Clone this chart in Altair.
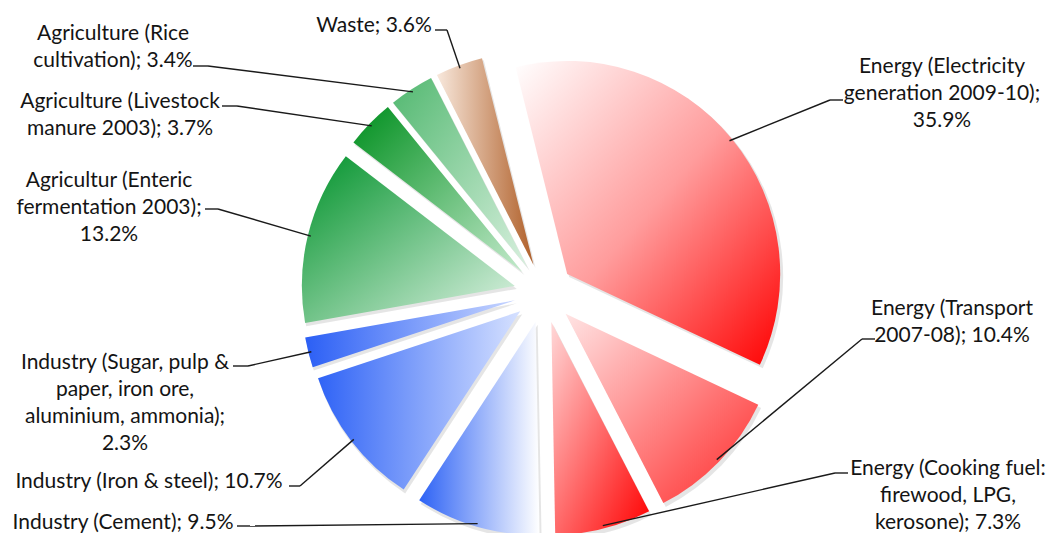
import math
import altair as alt
import pandas as pd

# ---------------- data ----------------
CATEGORIES = [
    "Energy (Electricity generation 2009-10)",
    "Energy (Transport 2007-08)",
    "Energy (Cooking fuel: firewood, LPG, kerosone)",
    "Industry (Cement)",
    "Industry (Iron & steel)",
    "Industry (Sugar, pulp & paper, iron ore, aluminium, ammonia)",
    "Agricultur (Enteric fermentation 2003)",
    "Agriculture (Livestock manure 2003)",
    "Agriculture (Rice cultivation)",
    "Waste",
]
VALUES = [35.9, 10.4, 7.3, 9.5, 10.7, 2.3, 13.2, 3.7, 3.4, 3.6]
LABELS = [
    "Energy (Electricity\ngeneration 2009-10);\n35.9%",
    "Energy (Transport\n2007-08); 10.4%",
    "Energy (Cooking fuel:\nfirewood, LPG,\nkerosone); 7.3%",
    "Industry (Cement); 9.5%",
    "Industry (Iron & steel); 10.7%",
    "Industry (Sugar, pulp &\npaper, iron ore,\naluminium, ammonia);\n2.3%",
    "Agricultur (Enteric\nfermentation 2003);\n13.2%",
    "Agriculture (Livestock\nmanure 2003); 3.7%",
    "Agriculture (Rice\ncultivation); 3.4%",
    "Waste; 3.6%",
]

# ---------------- styles / layout ----------------
def grad(c0, c1, x2=1, y2=1, mid=None):
    stops = [alt.GradientStop(color=c0, offset=0)]
    if mid:
        stops.append(alt.GradientStop(color=mid, offset=0.5))
    stops.append(alt.GradientStop(color=c1, offset=1))
    return alt.LinearGradient(gradient="linear", stops=stops, x1=0, y1=0, x2=x2, y2=y2)

GRADIENTS = [
    grad("#ffffff", "#ff0000", mid="#ff9c9c"),
    grad("#ffe4e4", "#ff2a2a"),
    grad("#ffd8d8", "#ff0000"),
    grad("#2d62f5", "#ffffff", x2=1, y2=0),
    grad("#2f63f6", "#d6e1ff", x2=1, y2=0),
    grad("#2b5ff5", "#c8d6ff", x2=1, y2=0),
    grad("#00922a", "#e2f4e7"),
    grad("#008f1e", "#c4eacc"),
    grad("#52b870", "#d8f0de"),
    grad("#f8e8dc", "#b0602a", x2=1, y2=0),
]

# label layout in page pixels: text centre x, first baseline y, dash text-end x, dash elbow x, dash y
LABEL_LAYOUT = [
    (942, 73, 843, 830, 100),
    (952, 315, 875, 862, 339),
    (948, 475, 848, 835, 473),
    (123, 529, 237, 250, 526),
    (149, 488, 289, 300, 486),
    (125, 369, 233, 248, 366),
    (109, 187, 205, 218, 209),
    (120, 108, 222, 237, 106),
    (113, 40, 193, 208, 66),
    (374, 32, 435, 447, 30),
]

MARGIN = 8
CX, CY = 544 - MARGIN, 293 - MARGIN
R = 213
EXPLODE = 30
LEAD_R = 210
START = math.radians(-14)
FONT = "Lato"

df = pd.DataFrame({
    "category": CATEGORIES,
    "value": VALUES,
    "order": list(range(len(VALUES))),
    "label": LABELS,
})
lay = pd.DataFrame(LABEL_LAYOUT, columns=["lx", "ly", "tx", "ex", "dy"]) - MARGIN
df = pd.concat([df, lay], axis=1)

base = (
    alt.Chart(df)
    .transform_window(cum="sum(value)", sort=[alt.SortField("order")], frame=[None, 0])
    .transform_joinaggregate(total="sum(value)")
    .transform_calculate(
        t0=f"{START} + 2*PI*(datum.cum - datum.value)/datum.total",
        t1=f"{START} + 2*PI*datum.cum/datum.total",
    )
    .transform_calculate(mid="(datum.t0 + datum.t1)/2")
    .transform_calculate(
        cx=f"{CX} + {EXPLODE}*sin(datum.mid)",
        cy=f"{CY} - {EXPLODE}*cos(datum.mid)",
    )
    .transform_calculate(
        sx=f"datum.cx + {LEAD_R}*sin(datum.mid)",
        sy=f"datum.cy - {LEAD_R}*cos(datum.mid)",
        shx="datum.cx + 2",
        shy="datum.cy + 3",
    )
)

shadow = base.mark_arc(radius=R + 1, fill="#000000", opacity=0.10).encode(
    x=alt.X("shx:Q", scale=None, axis=None),
    y=alt.Y("shy:Q", scale=None, axis=None),
    theta=alt.Theta("t0:Q", scale=None),
    theta2="t1:Q",
)

slices = []
for i, g in enumerate(GRADIENTS):
    slices.append(
        base.transform_filter(alt.datum.order == i)
        .mark_arc(radius=R, fill=g)
        .encode(
            x=alt.X("cx:Q", scale=None, axis=None),
            y=alt.Y("cy:Q", scale=None, axis=None),
            theta=alt.Theta("t0:Q", scale=None),
            theta2="t1:Q",
        )
    )

lead1 = base.mark_rule(color="#1a1a1a", strokeWidth=1.4).encode(
    x=alt.X("sx:Q", scale=None, axis=None),
    y=alt.Y("sy:Q", scale=None, axis=None),
    x2="ex:Q",
    y2="dy:Q",
)
lead2 = base.mark_rule(color="#1a1a1a", strokeWidth=1.4).encode(
    x=alt.X("ex:Q", scale=None, axis=None),
    y=alt.Y("dy:Q", scale=None, axis=None),
    x2="tx:Q",
    y2="dy:Q",
)

labels = base.mark_text(
    align="center", baseline="alphabetic", lineBreak="\n", lineHeight=27,
    font=FONT, fontSize=21, color="#141414",
).encode(
    x=alt.X("lx:Q", scale=None, axis=None),
    y=alt.Y("ly:Q", scale=None, axis=None),
    text="label:N",
)

chart = (
    alt.layer(shadow, *slices, lead1, lead2, labels)
    .properties(width=1040, height=525, padding=0, autosize=alt.AutoSizeParams(type="none"))
    .configure_view(stroke=None)
)

chart.save("out.html", embed_options={"renderer": "svg", "actions": False})
